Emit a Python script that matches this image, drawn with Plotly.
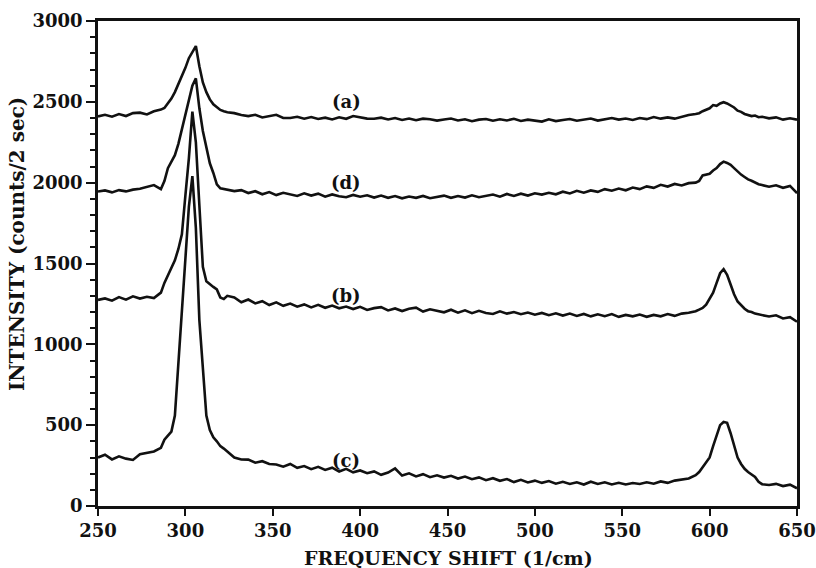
import plotly.graph_objects as go

freq = [250, 254, 258, 262, 266, 270, 274, 278, 282, 286,
        288, 290, 292, 294, 296, 298, 300, 302, 304, 306, 308, 310, 312, 314, 316, 318, 320, 322, 324,
        328, 332, 336, 340, 344, 348, 352, 356, 360, 364, 368, 372, 376, 380, 384, 388, 392, 396,
        400, 404, 408, 412, 416, 420, 424, 428, 432, 436, 440, 444, 448, 452, 456, 460, 464, 468,
        472, 476, 480, 484, 488, 492, 496, 500, 504, 508, 512, 516, 520, 524, 528, 532, 536, 540,
        544, 548, 552, 556, 560, 564, 568, 572, 576, 580, 584, 588, 592,
        594, 596, 598, 600, 602, 604, 606, 608, 610, 612, 614, 616, 618, 620, 622, 624, 626, 628, 630,
        634, 638, 642, 646, 650]

spec_a = [2410, 2420, 2408, 2424, 2412, 2430, 2433, 2422, 2442, 2452,
          2462, 2490, 2520, 2560, 2610, 2650, 2710, 2770, 2810, 2845, 2720, 2620, 2560, 2515, 2485, 2470, 2450, 2442, 2436,
          2430, 2418, 2412, 2420, 2403, 2410, 2420, 2400, 2400, 2408, 2396, 2406, 2394, 2402, 2391, 2404, 2395, 2412,
          2405, 2396, 2395, 2402, 2391, 2400, 2388, 2397, 2386, 2396, 2392, 2384, 2391, 2397, 2385, 2392, 2380, 2390,
          2394, 2383, 2392, 2385, 2395, 2382, 2390, 2385, 2378, 2392, 2381, 2388, 2394, 2383, 2390, 2397, 2384, 2392,
          2400, 2390, 2397, 2388, 2400, 2393, 2406, 2396, 2404, 2396, 2408, 2418, 2425,
          2430, 2442, 2452, 2460, 2480, 2475, 2490, 2498, 2490, 2478, 2465, 2445, 2438, 2425, 2420, 2412, 2415, 2405, 2408,
          2398, 2404, 2390, 2398, 2390]

spec_d = [1945, 1952, 1940, 1954, 1946, 1957, 1962, 1975, 1985, 1960,
          2010, 2090, 2130, 2170, 2240, 2330, 2420, 2500, 2600, 2645, 2460, 2320, 2210, 2120, 2060, 1990, 1965, 1960, 1955,
          1948, 1954, 1936, 1947, 1928, 1942, 1923, 1937, 1926, 1918, 1934, 1920, 1932, 1913, 1927, 1916, 1910, 1924,
          1913, 1922, 1908, 1920, 1906, 1917, 1903, 1914, 1906, 1918, 1904, 1914, 1920, 1906, 1917, 1908, 1922, 1910,
          1920, 1927, 1913, 1930, 1918, 1932, 1920, 1934, 1926, 1937, 1928, 1944, 1933, 1950, 1938, 1952, 1943, 1960,
          1950, 1964, 1953, 1970, 1960, 1977, 1968, 1987, 1976, 1992, 1983, 1997, 2000,
          2010, 2045, 2050, 2055, 2075, 2090, 2115, 2130, 2122, 2110, 2090, 2068, 2050, 2035, 2020, 2012, 2000, 1990, 1985,
          1975, 1984, 1968, 1980, 1935]

spec_b = [1275, 1284, 1270, 1292, 1276, 1297, 1283, 1294, 1286, 1320,
          1380, 1430, 1470, 1520, 1590, 1680, 1920, 2150, 2440, 2250, 1860, 1480, 1390, 1370, 1355, 1340, 1290, 1280, 1300,
          1290, 1260, 1277, 1253, 1267, 1243, 1260, 1238, 1252, 1233, 1247, 1228, 1244, 1226, 1240, 1223, 1234, 1218,
          1232, 1213, 1224, 1230, 1210, 1222, 1206, 1220, 1227, 1203, 1217, 1206, 1198, 1214, 1196, 1210, 1193, 1207,
          1194, 1188, 1204, 1190, 1200, 1186, 1197, 1183, 1194, 1180, 1192, 1178, 1190, 1176, 1188, 1173, 1186, 1174,
          1187, 1170, 1182, 1173, 1184, 1170, 1182, 1173, 1187, 1176, 1190, 1195, 1205,
          1215, 1225, 1245, 1280, 1320, 1380, 1440, 1465, 1430, 1370, 1310, 1265, 1240, 1220, 1205, 1200, 1190, 1185, 1180,
          1172, 1180, 1160, 1168, 1140]

spec_c = [300, 317, 288, 307, 293, 285, 320, 330, 337, 360,
          410, 435, 460, 560, 900, 1230, 1560, 1850, 2040, 1720, 1150, 820, 560, 470, 425, 400, 370, 355, 335,
          300, 288, 287, 268, 277, 260, 257, 243, 260, 236, 247, 228, 242, 223, 237, 213, 230, 208,
          220, 203, 214, 193, 207, 232, 188, 202, 183, 197, 178, 190, 176, 187, 170, 182, 166, 177,
          160, 172, 156, 167, 148, 162, 146, 157, 143, 154, 138, 150, 136, 147, 133, 150, 136, 147,
          133, 144, 133, 142, 136, 147, 138, 152, 143, 157, 165, 170, 190,
          210, 240, 270, 300, 370, 440, 500, 520, 515, 450, 380, 300, 260, 230, 210, 195, 180, 150, 135,
          130, 137, 123, 132, 110]

series_names = ["(a)", "(d)", "(b)", "(c)"]
label_x = [392, 392, 392, 392]
label_y = [2500, 2000, 1300, 280]

x_ticks = [250, 300, 350, 400, 450, 500, 550, 600, 650]
y_ticks = [0, 500, 1000, 1500, 2000, 2500, 3000]

fig = go.Figure()
for ys in [spec_a, spec_d, spec_b, spec_c]:
    assert len(ys) == len(freq), len(ys)
    fig.add_trace(go.Scatter(x=freq, y=ys, mode="lines",
                             line=dict(color="#111111", width=2.6),
                             showlegend=False, hoverinfo="skip"))

for name, lx, ly in zip(series_names, label_x, label_y):
    fig.add_annotation(x=lx, y=ly, text=name, showarrow=False,
                       font=dict(family="DejaVu Serif", size=18, color="#111111", weight="bold"),
                       xanchor="center", yanchor="middle")

# axis titles placed as annotations to match the original positions
fig.add_annotation(xref="paper", yref="paper", x=-0.116, y=0.54,
                   text="INTENSITY (counts/2 sec)", textangle=-90, showarrow=False,
                   font=dict(family="DejaVu Serif", size=20, color="#111111", weight="bold"),
                   xanchor="center", yanchor="middle")
fig.add_annotation(xref="paper", yref="paper", x=0.502, y=-0.107,
                   text="FREQUENCY SHIFT (1/cm)", showarrow=False,
                   font=dict(family="DejaVu Serif", size=19, color="#111111", weight="bold"),
                   xanchor="center", yanchor="middle")

font_tick = dict(family="DejaVu Serif", size=18, color="#111111", weight="bold")

fig.update_layout(
    width=816, height=568,
    margin=dict(l=98, r=19, t=21, b=62, autoexpand=False),
    paper_bgcolor="white", plot_bgcolor="white",
    xaxis=dict(range=[250, 650], tickvals=x_ticks, ticks="outside", ticklen=7, tickwidth=2,
               tickcolor="#111111", showline=True, linewidth=2.5, linecolor="#111111",
               mirror=True, showgrid=False, zeroline=False, tickfont=font_tick, automargin=False),
    yaxis=dict(range=[0, 3000], tickvals=y_ticks, ticks="outside", ticklen=9, tickwidth=2,
               tickcolor="#111111", showline=True, linewidth=2.5, linecolor="#111111",
               mirror=True, showgrid=False, zeroline=False, tickfont=font_tick, automargin=False,
               minor=dict(dtick=100, ticks="outside", ticklen=5, tickwidth=1.5, tickcolor="#111111")),
)

fig.write_html("out.html")
